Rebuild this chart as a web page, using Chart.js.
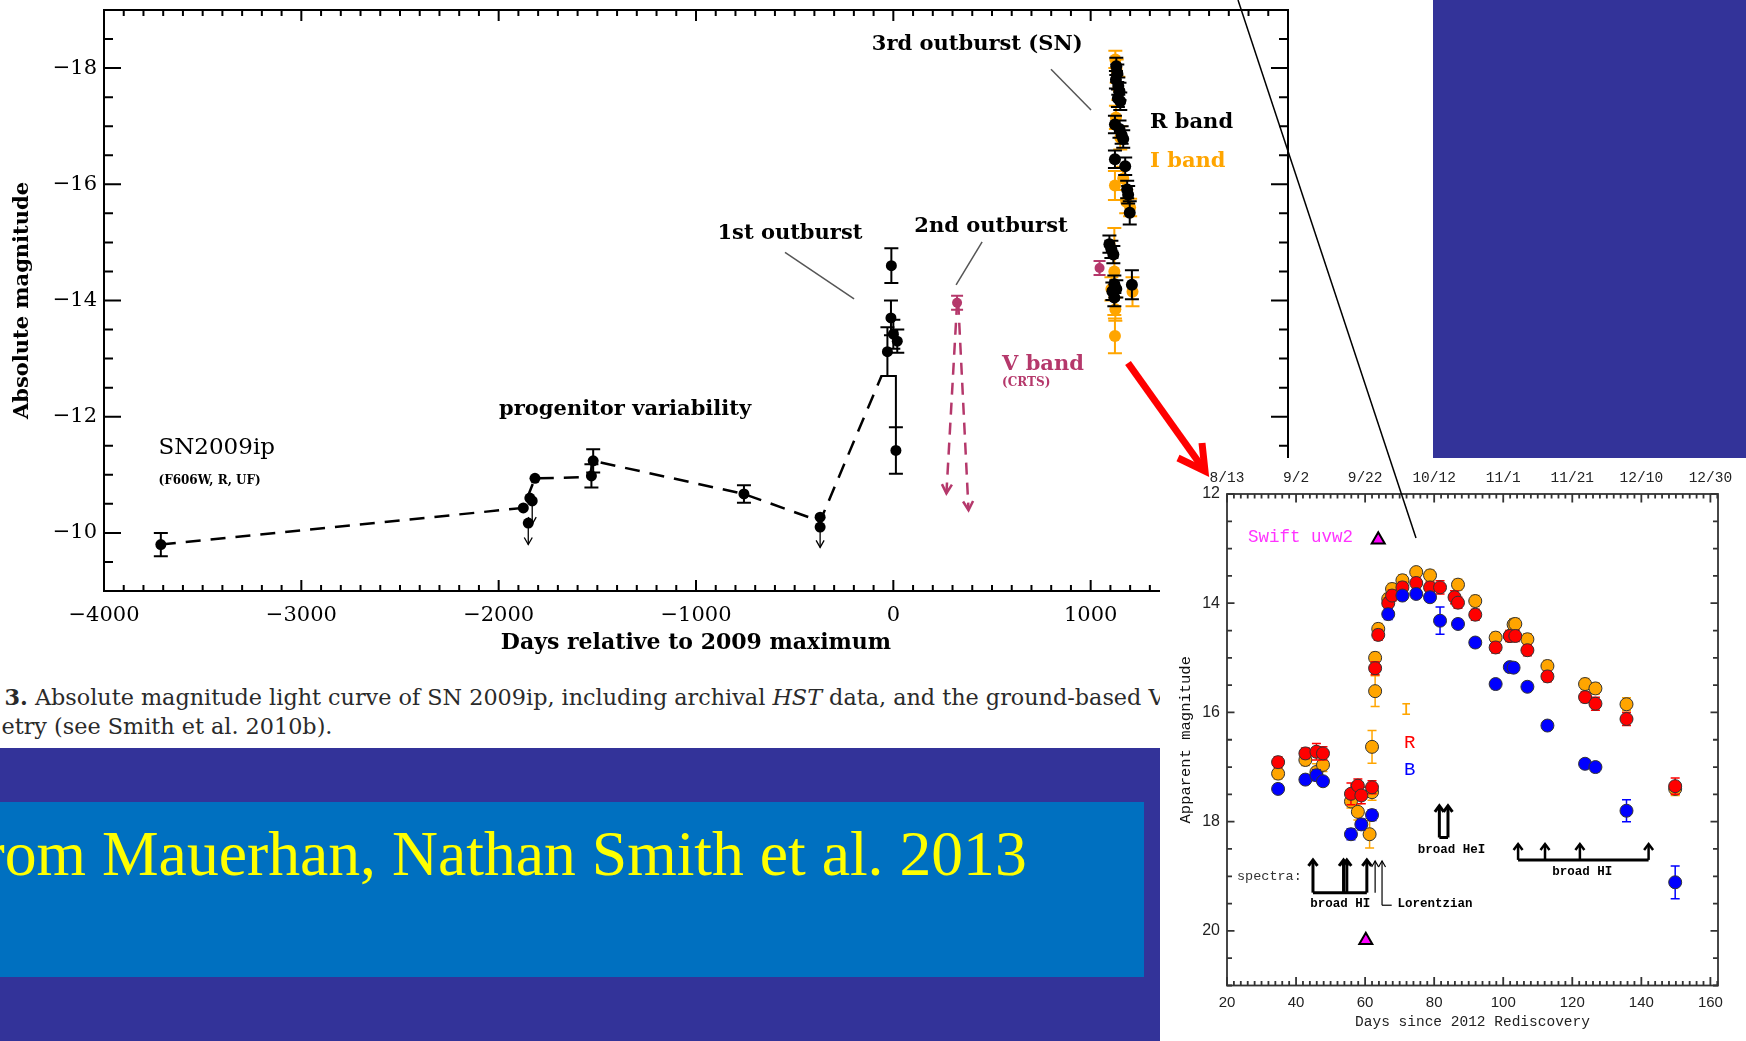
<!DOCTYPE html>
<html>
<head>
<meta charset="utf-8">
<title>SN 2009ip light curves</title>
<script src="https://cdn.jsdelivr.net/npm/chart.js"></script>
<style>
  html, body { margin: 0; padding: 0; }
  body { width: 1746px; height: 1041px; overflow: hidden; background: #fff; position: relative; }
  canvas, .blk { position: absolute; }
  .cap { position: absolute; white-space: nowrap; font-family: 'DejaVu Serif', serif; font-size: 19px; color: #2a2a2a; }
  .bl { display: inline-block; width: 0; height: 0; }
  #band { left: 0; top: 748px; width: 1160px; height: 293px; background: #333399; }
  #box { left: 0; top: 802px; width: 1144px; height: 175px; background: #0070c0; overflow: hidden; }
  #credit { position: absolute; left: -50px; top: 10px; white-space: nowrap; font-family: 'Liberation Serif', 'Times New Roman', serif; font-size: 63px; color: #ffff00; }
  #corner { left: 1433px; top: 0; width: 313px; height: 458px; background: #333399; }
  #insetBg { left: 1160px; top: 458px; width: 586px; height: 583px; background: #fff; }
</style>
</head>
<body>
<canvas id="main" width="1300" height="680" style="left:0;top:0"></canvas>
<div id="cap1" class="cap" style="left:4px;top:680px"><span id="cap1fit"><b>3.</b> Absolute magnitude light curve of SN 2009ip, including archival <i>HST</i> data, and the ground-based</span> V<span class="bl"></span></div>
<div id="cap2" class="cap" style="left:1px;top:712px"><span id="cap2fit">etry (see Smith et al. 2010b).</span><span class="bl"></span></div>
<div id="band" class="blk"></div>
<div id="box" class="blk"><div id="credit">From <span id="creditFit">Mauerhan, Nathan Smith et al. 2013</span><span class="bl"></span></div></div>
<div id="corner" class="blk"></div>
<div id="insetBg" class="blk"></div>
<canvas id="inset" width="586" height="583" style="left:1160px;top:458px"></canvas>
<canvas id="overlay" width="1746" height="1041" style="left:0;top:0"></canvas>

<script>
// ---------- main plot: absolute magnitude vs days from 2009 max ----------
const dayTicks = [-4000, -3000, -2000, -1000, 0, 1000];
const absMagTicks = [-18, -16, -14, -12, -10];

// progenitor detections (black)
const preDays = [-3712, -1875, -1842, -1816, -1530, -1521, -757, -371];
const preMag = [-9.80, -10.43, -10.60, -10.94, -10.98, -11.24, -10.67, -10.27];
const preErr = [0.20, 0, 0, 0, 0.20, 0.20, 0.15, 0];

// upper limits (arrows pointing fainter)
const limDays = [-1850, -1830, -371];
const limMag = [-10.17, -10.55, -10.10];
const limTo = [-9.80, -10.15, -9.75];

// dashed progenitor track
const trackDays = [-3712, -1875, -1816, -1540, -1521, -757, -371, -60];
const trackMag = [-9.80, -10.43, -10.94, -10.96, -11.24, -10.67, -10.20, -12.70];

// solid stub joining the track to the late 2009 point
const stubDays = [-60, 13, 13];
const stubMag = [-12.70, -12.70, -11.82];

// 2009 (1st) outburst
const out1Days = [-10, -12, 0, 20, -30, 13];
const out1Mag = [-14.60, -13.70, -13.42, -13.30, -13.12, -11.42];
const out1Err = [0.30, 0.30, 0.25, 0.20, 0.42, 0.40];

// 2012 SN, R band (black)
const snRDays = [1130, 1135, 1128, 1140, 1146, 1138, 1150, 1123, 1146, 1157, 1165, 1123, 1175, 1185, 1190, 1198, 1095, 1105, 1115, 1120, 1110, 1120, 1130, 1209];
const snRMag = [-18.03, -17.91, -17.80, -17.69, -17.60, -17.48, -17.43, -17.03, -16.95, -16.85, -16.78, -16.43, -16.31, -15.91, -15.82, -15.51, -14.97, -14.88, -14.79, -14.28, -14.16, -14.05, -14.20, -14.27];
const snRErr = [0.15, 0.15, 0.15, 0.15, 0.15, 0.15, 0.15, 0.15, 0.15, 0.15, 0.15, 0.15, 0.15, 0.15, 0.15, 0.2, 0.15, 0.15, 0.15, 0.15, 0.15, 0.15, 0.15, 0.25];

// 2012 SN, I band (orange)
const snIDays = [1125, 1132, 1140, 1128, 1150, 1123, 1165, 1180, 1200, 1120, 1105, 1125, 1123, 1212];
const snIMag = [-18.15, -17.95, -17.65, -17.15, -16.80, -15.98, -16.10, -15.70, -15.60, -14.50, -14.20, -13.85, -13.39, -14.15];
const snIErr = [0.15, 0.2, 0.2, 0.2, 0.2, 0.25, 0.2, 0.2, 0.15, 0.75, 0.2, 0.2, 0.3, 0.25];

// CRTS V band
const crtsDays = [323, 1045];
const crtsMag = [-13.96, -14.56];
const crtsErr = [0.12, 0.12];
const crtsLimDays = [269, 381];
const crtsLimMag = [-10.68, -10.39];

// ---------- inset: apparent magnitude vs days since rediscovery ----------
const rediscTicks = [20, 40, 60, 80, 100, 120, 140, 160];
const dateTicks = ['8/13', '9/2', '9/22', '10/12', '11/1', '11/21', '12/10', '12/30'];
const appMagTicks = [12, 14, 16, 18, 20];

const iDays = [34.8, 42.7, 45.9, 47.8, 55.9, 57.9, 61.3, 62.0, 62.0, 62.9, 62.9, 63.8, 66.7, 67.8, 70.8, 74.8, 78.8, 86.9, 91.9, 97.8, 101.9, 103.0, 103.5, 107.0, 112.8, 123.7, 126.7, 135.7, 149.8];
const iMag = [17.12, 16.87, 17.09, 16.96, 17.63, 17.82, 18.23, 16.63, 17.46, 15.00, 15.61, 14.47, 13.92, 13.74, 13.58, 13.43, 13.49, 13.66, 13.96, 14.63, 14.60, 14.39, 14.38, 14.66, 15.15, 15.48, 15.56, 15.85, 17.40];
const iErr = [0.1, 0.1, 0.15, 0.12, 0.12, 0.15, 0.25, 0.3, 0.15, 0.1, 0.28, 0.1, 0.1, 0.1, 0.1, 0.08, 0.1, 0.1, 0.1, 0.1, 0.1, 0.1, 0.1, 0.1, 0.1, 0.1, 0.1, 0.12, 0.12];

const rDays = [34.8, 42.7, 45.9, 47.8, 55.9, 57.9, 58.9, 62.0, 62.9, 63.8, 66.7, 67.8, 70.8, 74.8, 78.8, 81.7, 85.9, 86.9, 91.9, 97.8, 101.9, 103.5, 107.0, 112.8, 123.7, 126.7, 135.7, 149.8];
const rMag = [16.91, 16.75, 16.72, 16.75, 17.49, 17.34, 17.52, 17.37, 15.19, 14.58, 14.00, 13.86, 13.71, 13.63, 13.71, 13.71, 13.89, 13.99, 14.21, 14.81, 14.60, 14.60, 14.86, 15.34, 15.72, 15.84, 16.12, 17.35];
const rErr = [0.1, 0.1, 0.15, 0.12, 0.2, 0.12, 0.15, 0.12, 0.12, 0.1, 0.1, 0.1, 0.1, 0.1, 0.1, 0.12, 0.12, 0.1, 0.1, 0.1, 0.1, 0.1, 0.1, 0.1, 0.1, 0.12, 0.12, 0.15];

const bDays = [34.8, 42.7, 45.9, 47.8, 55.9, 58.9, 62.0, 66.7, 70.8, 74.8, 78.8, 81.7, 86.9, 91.9, 97.8, 101.9, 103.0, 107.0, 112.8, 123.7, 126.7, 135.7, 149.8];
const bMag = [17.40, 17.23, 17.15, 17.26, 18.23, 18.05, 17.88, 14.20, 13.86, 13.83, 13.89, 14.32, 14.38, 14.72, 15.48, 15.17, 15.18, 15.53, 16.24, 16.94, 17.00, 17.80, 19.11];
const bErr = [0.08, 0.08, 0.1, 0.08, 0.1, 0.1, 0.1, 0.1, 0.08, 0.08, 0.08, 0.25, 0.08, 0.08, 0.08, 0.08, 0.08, 0.08, 0.08, 0.08, 0.08, 0.2, 0.3];

const uvDays = [63.8, 60.2];
const uvMag = [12.84, 20.17];

// spectra epochs
const specThick = [44.9, 53.75, 54.7, 60.5];
const specThin = [62.9, 64.9];
const specHeI = [81.5, 84.0];
const specLate = [104.3, 112.1, 122.2, 142.1];

// ---------- helpers ----------
const serif = '"DejaVu Serif", serif';
const mono = '"Liberation Mono", monospace';
const sans = '"Liberation Sans", Arial, sans-serif';

const pts = (xs, ys) => xs.map((x, i) => ({ x: x, y: ys[i] }));
const signed = v => (v < 0 ? '\u2212' + Math.abs(v) : String(v));

// fixed axis size, no extra label padding so the plot box lands where we want
const fixSize = (w, h) => s => {
  if (w != null) s.width = w;
  if (h != null) s.height = h;
  s.paddingTop = 0; s.paddingBottom = 0; s.paddingLeft = 0; s.paddingRight = 0;
};

function head(ctx, x0, y0, x1, y1, len, half) {
  const a = Math.atan2(y1 - y0, x1 - x0), c = Math.cos(a), s = Math.sin(a);
  ctx.beginPath();
  ctx.moveTo(x1 - len * c + half * s, y1 - len * s - half * c);
  ctx.lineTo(x1, y1);
  ctx.lineTo(x1 - len * c - half * s, y1 - len * s + half * c);
  ctx.stroke();
}

// error bars + upper-limit arrows, drawn just under each dataset
const errorBars = {
  id: 'errorBars',
  beforeDatasetDraw(chart, args) {
    const ds = chart.data.datasets[args.index];
    if (!ds.err && !ds.limTo) return;
    const ctx = chart.ctx, ys = chart.scales.y;
    ctx.save();
    ctx.strokeStyle = ds.errColor || '#000';
    ctx.lineWidth = ds.errWidth || 1.5;
    args.meta.data.forEach((p, i) => {
      const v = ds.data[i].y;
      if (ds.err && ds.err[i]) {
        const y1 = ys.getPixelForValue(v - ds.err[i]), y2 = ys.getPixelForValue(v + ds.err[i]), c = ds.cap;
        ctx.beginPath();
        ctx.moveTo(p.x, y1); ctx.lineTo(p.x, y2);
        ctx.moveTo(p.x - c, y1); ctx.lineTo(p.x + c, y1);
        ctx.moveTo(p.x - c, y2); ctx.lineTo(p.x + c, y2);
        ctx.stroke();
      }
      if (ds.limTo) {
        const y2 = ys.getPixelForValue(ds.limTo[i]);
        ctx.beginPath(); ctx.moveTo(p.x, p.y); ctx.lineTo(p.x, y2); ctx.stroke();
        head(ctx, p.x, p.y, p.x, y2, 7, 4);
      }
    });
    ctx.restore();
  }
};

// box with inward ticks on all four sides
function frameTicks(o) {
  return {
    id: 'frameTicks',
    afterDraw(chart) {
      const { ctx, chartArea: a, scales } = chart;
      const x = scales.x, y = scales.y;
      ctx.save();
      ctx.strokeStyle = o.color; ctx.lineWidth = o.width;
      ctx.strokeRect(a.left, a.top, a.right - a.left, a.bottom - a.top);
      ctx.beginPath();
      for (let k = 0; ; k++) {
        const v = x.min + k * o.xMinor;
        if (v > x.max + 1e-6) break;
        const px = x.getPixelForValue(v);
        const len = Math.abs(v / o.xMajor - Math.round(v / o.xMajor)) < 1e-6 ? o.xLen[0] : o.xLen[1];
        ctx.moveTo(px, a.bottom); ctx.lineTo(px, a.bottom - len);
        ctx.moveTo(px, a.top); ctx.lineTo(px, a.top + len);
      }
      for (let k = 0; ; k++) {
        const v = y.min + k * o.yMinor;
        if (v > y.max + 1e-6) break;
        const py = y.getPixelForValue(v);
        const len = Math.abs(v / o.yMajor - Math.round(v / o.yMajor)) < 1e-6 ? o.yLen[0] : o.yLen[1];
        ctx.moveTo(a.left, py); ctx.lineTo(a.left + len, py);
        ctx.moveTo(a.right, py); ctx.lineTo(a.right - len, py);
      }
      ctx.stroke();
      ctx.restore();
    }
  };
}

// text labels and annotation lines placed in data units
function notes(cfg) {
  return {
    id: 'notes',
    afterDatasetsDraw(chart) {
      const { ctx, scales } = chart;
      const px = v => scales.x.getPixelForValue(v), py = v => scales.y.getPixelForValue(v);
      ctx.save();
      cfg.lines.forEach(l => {
        ctx.strokeStyle = l.color; ctx.lineWidth = l.width;
        ctx.setLineDash(l.dash || []);
        ctx.beginPath();
        l.pts.forEach((p, i) => (i ? ctx.lineTo(px(p[0]), py(p[1])) : ctx.moveTo(px(p[0]), py(p[1]))));
        ctx.stroke();
        ctx.setLineDash([]);
        if (l.head) {
          const n = l.pts.length, p0 = l.pts[n - 2], p1 = l.pts[n - 1];
          head(ctx, px(p0[0]), py(p0[1]), px(p1[0]), py(p1[1]), l.head[0], l.head[1]);
        }
      });
      cfg.texts.forEach(t => {
        ctx.font = t.font; ctx.fillStyle = t.color || '#000';
        ctx.textAlign = t.align || 'center'; ctx.textBaseline = 'middle';
        ctx.fillText(t.text, px(t.x), py(t.y));
      });
      ctx.restore();
    }
  };
}

// ---------- main chart ----------
const black = '#000', orange = '#ffa500', crtsCol = '#b5386b';

const mainNotes = {
  lines: [
    { pts: [[799, -17.98], [1002, -17.28]], color: '#555', width: 1.5 },
    { pts: [[-549, -14.83], [-199, -14.03]], color: '#555', width: 1.5 },
    { pts: [[450, -15.01], [318, -14.27]], color: '#555', width: 1.5 },
    { pts: [[crtsDays[0], crtsMag[0]], [crtsLimDays[0], crtsLimMag[0]]], color: crtsCol, width: 2.5, dash: [12, 8], head: [9, 5] },
    { pts: [[crtsDays[0] + 6, crtsMag[0]], [crtsLimDays[1], crtsLimMag[1]]], color: crtsCol, width: 2.5, dash: [12, 8], head: [9, 5] }
  ],
  texts: [
    { text: '3rd outburst (SN)', x: 425, y: -18.40, font: 'bold 21px ' + serif },
    { text: 'R band', x: 1301, y: -17.06, font: 'bold 21px ' + serif, align: 'left' },
    { text: 'I band', x: 1301, y: -16.40, font: 'bold 21px ' + serif, align: 'left', color: orange },
    { text: '1st outburst', x: -524, y: -15.16, font: 'bold 21px ' + serif },
    { text: '2nd outburst', x: 495, y: -15.28, font: 'bold 21px ' + serif },
    { text: 'V band', x: 551, y: -12.89, font: 'bold 21px ' + serif, align: 'left', color: crtsCol },
    { text: '(CRTS)', x: 551, y: -12.58, font: 'bold 12px ' + serif, align: 'left', color: crtsCol },
    { text: 'progenitor variability', x: -1359, y: -12.13, font: 'bold 21px ' + serif },
    { text: 'SN2009ip', x: -3724, y: -11.46, font: '23px ' + serif, align: 'left' },
    { text: '(F606W, R, UF)', x: -3724, y: -10.89, font: 'bold 12px ' + serif, align: 'left' }
  ]
};

const dot = (color, r) => ({ pointRadius: r, pointBackgroundColor: color, pointBorderColor: color, pointBorderWidth: 0, showLine: false });

new Chart(document.getElementById('main'), {
  type: 'scatter',
  data: {
    datasets: [
      Object.assign({ data: pts(crtsDays, crtsMag), err: crtsErr, errColor: crtsCol, errWidth: 2, cap: 6, order: 0 }, dot(crtsCol, 5)),
      Object.assign({ data: pts(snRDays, snRMag), err: snRErr, errColor: black, errWidth: 2, cap: 7, order: 1 }, dot(black, 6)),
      Object.assign({ data: pts(out1Days, out1Mag), err: out1Err, errColor: black, errWidth: 2, cap: 7, order: 1 }, dot(black, 5.5)),
      Object.assign({ data: pts(preDays, preMag), err: preErr, errColor: black, errWidth: 2, cap: 7, order: 1 }, dot(black, 5.5)),
      Object.assign({ data: pts(limDays, limMag), limTo: limTo, errColor: black, errWidth: 1.3, order: 1 }, dot(black, 5.5)),
      Object.assign({ data: pts(snIDays, snIMag), err: snIErr, errColor: orange, errWidth: 2, cap: 7, order: 2 }, dot(orange, 6)),
      { data: pts(stubDays, stubMag), showLine: true, borderColor: black, borderWidth: 2, pointRadius: 0, order: 3 },
      { data: pts(trackDays, trackMag), showLine: true, borderColor: black, borderWidth: 2.5, borderDash: [15, 10], pointRadius: 0, order: 3 }
    ]
  },
  options: {
    responsive: false, animation: false, events: [],
    layout: { padding: { left: 0, top: 10, right: 12, bottom: 0 } },
    plugins: { legend: { display: false }, tooltip: { enabled: false } },
    scales: {
      x: {
        type: 'linear', min: -4000, max: 2000,
        afterBuildTicks: s => { s.ticks = dayTicks.map(v => ({ value: v })); },
        afterFit: fixSize(null, 89),
        grid: { display: false, drawTicks: false }, border: { display: false },
        ticks: { color: '#000', font: { family: serif, size: 21 }, padding: 12, maxRotation: 0, autoSkip: false, callback: signed },
        title: { display: true, text: 'Days relative to 2009 maximum', color: '#000', font: { family: serif, size: 22, weight: 'bold' }, padding: { top: 0, bottom: 24 } }
      },
      y: {
        type: 'linear', reverse: true, min: -19, max: -9,
        afterBuildTicks: s => { s.ticks = absMagTicks.map(v => ({ value: v })); },
        afterFit: fixSize(104, null),
        grid: { display: false, drawTicks: false }, border: { display: false },
        ticks: { color: '#000', font: { family: serif, size: 21 }, padding: 7, callback: signed },
        title: { display: true, text: 'Absolute magnitude', color: '#000', font: { family: serif, size: 21, weight: 'bold' }, padding: { top: 10, bottom: 0 } }
      }
    }
  },
  plugins: [errorBars, frameTicks({ xMinor: 100, xMajor: 1000, xLen: [11, 6], yMinor: 0.5, yMajor: 2, yLen: [17, 9], width: 2, color: '#000' }), notes(mainNotes)]
});

// ---------- inset chart ----------
const insetLines = [];
const thick = { color: '#000', width: 3 };
insetLines.push(Object.assign({ pts: [[specThick[0], 19.30], [specThick[3], 19.30]] }, thick));
specThick.forEach(d => insetLines.push(Object.assign({ pts: [[d, 19.30], [d, 18.70]], head: [6, 4.5] }, thick)));
insetLines.push({ pts: [[specThin[0], 19.30], [specThin[0], 18.72]], color: '#000', width: 1.2, head: [6, 3.5] });
insetLines.push({ pts: [[specThin[1], 19.53], [specThin[1], 18.72]], color: '#000', width: 1.2, head: [6, 3.5] });
insetLines.push({ pts: [[specThin[1], 19.53], [67.7, 19.53]], color: '#000', width: 1.2 });
insetLines.push(Object.assign({ pts: [[specHeI[0], 18.29], [specHeI[1], 18.29]] }, thick));
specHeI.forEach(d => insetLines.push(Object.assign({ pts: [[d, 18.29], [d, 17.71]], head: [6, 4.5] }, thick)));
insetLines.push({ pts: [[specLate[0], 18.70], [specLate[3], 18.70]], color: '#000', width: 3 });
specLate.forEach(d => insetLines.push({ pts: [[d, 18.70], [d, 18.41]], color: '#000', width: 2.5, head: [6, 4.5] }));

const insetNotes = {
  lines: insetLines,
  texts: [
    { text: 'Swift uvw2', x: 26.1, y: 12.79, font: '17.5px ' + mono, align: 'left', color: '#ff33ff' },
    { text: 'I', x: 71.9, y: 15.96, font: '19px ' + mono, color: orange },
    { text: 'R', x: 72.9, y: 16.55, font: '19px ' + mono, color: '#ff0000' },
    { text: 'B', x: 72.9, y: 17.05, font: '19px ' + mono, color: '#0000ff' },
    { text: 'spectra:', x: 22.9, y: 19.01, font: '13.5px ' + mono, align: 'left', color: '#333' },
    { text: 'broad HI', x: 52.8, y: 19.51, font: 'bold 12.5px ' + mono },
    { text: 'Lorentzian', x: 69.4, y: 19.51, font: 'bold 12.5px ' + mono, align: 'left' },
    { text: 'broad HeI', x: 85.0, y: 18.52, font: 'bold 12.5px ' + mono },
    { text: 'broad HI', x: 122.9, y: 18.92, font: 'bold 12.5px ' + mono }
  ]
};

const ball = (color, order) => ({ pointRadius: 6.5, pointBackgroundColor: color, pointBorderColor: '#333', pointBorderWidth: 1, showLine: false, order: order });

new Chart(document.getElementById('inset'), {
  type: 'scatter',
  data: {
    datasets: [
      { data: pts(uvDays, uvMag), pointStyle: 'triangle', pointRadius: 7.5, pointBackgroundColor: '#ff00ff', pointBorderColor: '#000', pointBorderWidth: 2, order: 0 },
      Object.assign({ data: pts(bDays, bMag), err: bErr, errColor: '#0000ff', errWidth: 1.5, cap: 4.5 }, ball('#0000ff', 1)),
      Object.assign({ data: pts(rDays, rMag), err: rErr, errColor: '#ff0000', errWidth: 1.5, cap: 4.5 }, ball('#ff0000', 2)),
      Object.assign({ data: pts(iDays, iMag), err: iErr, errColor: orange, errWidth: 1.5, cap: 4.5 }, ball(orange, 3))
    ]
  },
  options: {
    responsive: false, animation: false, events: [],
    layout: { padding: { left: 0, top: 0, right: 28, bottom: 0 } },
    plugins: { legend: { display: false }, tooltip: { enabled: false } },
    scales: {
      x: {
        type: 'linear', position: 'bottom', min: 20, max: 162.2,
        afterBuildTicks: s => { s.ticks = rediscTicks.map(v => ({ value: v })); },
        afterFit: fixSize(null, 55.5),
        grid: { display: false, drawTicks: false }, border: { display: false },
        ticks: { color: '#222', font: { family: sans, size: 15 }, padding: 8, maxRotation: 0, autoSkip: false },
        title: { display: true, text: 'Days since 2012 Rediscovery', color: '#222', font: { family: mono, size: 14.5 }, padding: { top: 0, bottom: 10 } }
      },
      x2: {
        type: 'linear', position: 'top', min: 20, max: 162.2,
        afterBuildTicks: s => { s.ticks = rediscTicks.map(v => ({ value: v })); },
        afterFit: fixSize(null, 36),
        grid: { display: false, drawTicks: false }, border: { display: false },
        ticks: { color: '#222', font: { family: mono, size: 14.5 }, padding: 7, maxRotation: 0, autoSkip: false, callback: v => dateTicks[rediscTicks.indexOf(v)] }
      },
      y: {
        type: 'linear', reverse: true, min: 12, max: 21,
        afterBuildTicks: s => { s.ticks = appMagTicks.map(v => ({ value: v })); },
        afterFit: fixSize(67, null),
        grid: { display: false, drawTicks: false }, border: { display: false },
        ticks: { color: '#222', font: { family: sans, size: 16 }, padding: 7 },
        title: { display: true, text: 'Apparent magnitude', color: '#111', font: { family: mono, size: 15.5 }, padding: { top: 17, bottom: 0 } }
      }
    }
  },
  plugins: [errorBars, frameTicks({ xMinor: 2, xMajor: 20, xLen: [8.5, 4.5], yMinor: 0.5, yMajor: 2, yLen: [7.5, 5], width: 1.8, color: '#333' }), notes(insetNotes)]
});

// ---------- slide decorations: pointer line and red arrow ----------
const ov = document.getElementById('overlay').getContext('2d');
ov.strokeStyle = '#000'; ov.lineWidth = 1.5;
ov.beginPath(); ov.moveTo(1238, 0); ov.lineTo(1416, 538); ov.stroke();
ov.strokeStyle = '#ff0000'; ov.lineWidth = 7; ov.lineJoin = 'miter';
ov.beginPath(); ov.moveTo(1128, 363); ov.lineTo(1205, 471); ov.stroke();
ov.beginPath(); ov.moveTo(1178, 458); ov.lineTo(1205, 471); ov.lineTo(1202, 443); ov.stroke();

// ---------- fit slide text to its place ----------
function fitText(el, span, x0, x1, base, keepSize) {
  if (!keepSize) {
    const fs = parseFloat(getComputedStyle(el).fontSize);
    el.style.fontSize = (fs * (x1 - x0) / span.getBoundingClientRect().width) + 'px';
  }
  const r = span.getBoundingClientRect();
  el.style.left = (parseFloat(getComputedStyle(el).left) + x0 - r.left) + 'px';
  const b = el.querySelector('.bl').getBoundingClientRect().bottom;
  el.style.top = (parseFloat(getComputedStyle(el).top) + base - b) + 'px';
}
const cap1 = document.getElementById('cap1'), cap2 = document.getElementById('cap2');
fitText(cap1, document.getElementById('cap1fit'), 4.5, 1142, 705);
cap2.style.fontSize = cap1.style.fontSize;
fitText(cap2, document.getElementById('cap2fit'), 1.5, 0, 734, true);
fitText(document.getElementById('credit'), document.getElementById('creditFit'), 102, 1027, 875);
</script>
</body>
</html>
